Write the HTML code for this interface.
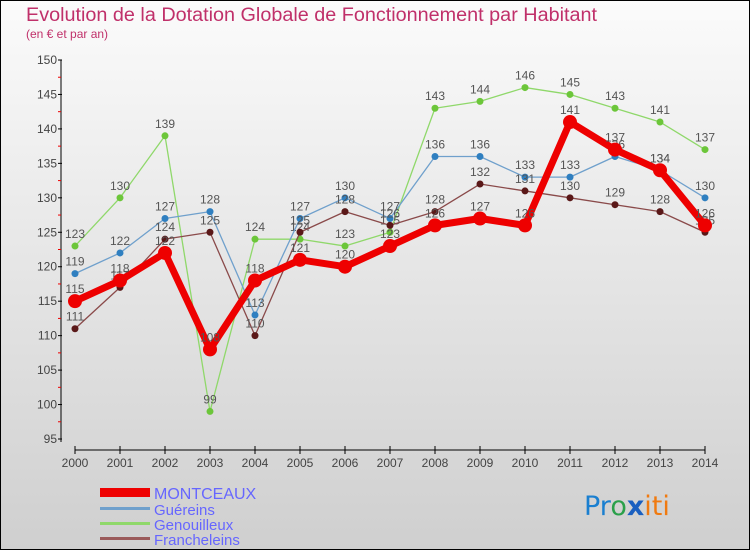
<!DOCTYPE html>
<html><head><meta charset="utf-8"><style>
html,body{margin:0;padding:0;}
body{width:750px;height:550px;overflow:hidden;font-family:"Liberation Sans",sans-serif;}
</style></head><body>
<svg id="chart" width="750" height="550" xmlns="http://www.w3.org/2000/svg" font-family="Liberation Sans, sans-serif">
<defs><linearGradient id="bg" x1="0" y1="0" x2="0" y2="1"><stop offset="0" stop-color="#fbfbfb"/><stop offset="1" stop-color="#cfcfcf"/></linearGradient></defs>
<rect x="0.5" y="0.5" width="749" height="549" fill="url(#bg)" stroke="#000" stroke-width="1"/>
<text x="26" y="21" font-size="19" fill="#c0306a" textLength="571" lengthAdjust="spacingAndGlyphs">Evolution de la Dotation Globale de Fonctionnement par Habitant</text>
<text x="26" y="38" font-size="12" fill="#c0306a">(en € et par an)</text>
<g id="axes"></g>
<g id="series"></g>
<g id="legend">
<rect x="100" y="488" width="50" height="9" fill="#e00"/>
<text x="154" y="499" font-size="16" fill="#6666ff">MONTCEAUX</text>
<rect x="100" y="507" width="50" height="3" fill="#6fa0cc"/>
<text x="154" y="515" font-size="15" fill="#6666ff">Guéreins</text>
<rect x="100" y="522" width="50" height="3" fill="#8fd86a"/>
<text x="154" y="530" font-size="15" fill="#6666ff">Genouilleux</text>
<rect x="100" y="537" width="50" height="3" fill="#9a5a5a"/>
<text x="154" y="545" font-size="15" fill="#6666ff">Francheleins</text>
</g>
<g font-size="27" font-family="DejaVu Sans, sans-serif">
<text x="584" y="515"><tspan fill="#1a7fd0">Pr</tspan><tspan fill="#2aa04a">o</tspan><tspan fill="#1a5fc0" font-weight="bold">x</tspan><tspan fill="#f07a10">iti</tspan></text>
</g>
</svg>
<script>
const years=[2000,2001,2002,2003,2004,2005,2006,2007,2008,2009,2010,2011,2012,2013,2014];
const montceaux=[115,118,122,108,118,121,120,123,126,127,126,141,137,134,126];
const guereins=[119,122,127,128,113,127,130,127,136,136,133,133,136,134,130];
const genouilleux=[123,130,139,99,124,124,123,125,143,144,146,145,143,141,137];
const francheleins=[111,117,124,125,110,125,128,126,128,132,131,130,129,128,125];
const yTicks=[95,100,105,110,115,120,125,130,135,140,145,150];
const NS="http://www.w3.org/2000/svg";
const xs=i=>75+i*45;
const ys=v=>60+(150-v)*(379/55);
function mk(tag,attrs,parent){const e=document.createElementNS(NS,tag);for(const k in attrs)e.setAttribute(k,attrs[k]);parent.appendChild(e);return e;}
const ax=document.getElementById('axes');
let l=mk('line',{x1:61,y1:ys(150),x2:61,y2:ys(95)+3,stroke:'#000'},ax);


l=mk('line',{x1:75,y1:450,x2:705,y2:450,stroke:'#000'},ax);


yTicks.forEach((v,i)=>{
  mk('line',{x1:58,y1:ys(v),x2:62,y2:ys(v),stroke:'#000'},ax);
  if(i<yTicks.length-1) mk('line',{x1:58,y1:ys(v+2.5),x2:61,y2:ys(v+2.5),stroke:'#e00'},ax);
  const t=mk('text',{x:57,y:ys(v)+4,'text-anchor':'end','font-size':12,fill:'#444'},ax);
  t.textContent=v;
  
  
});
years.forEach((y,i)=>{
  mk('line',{x1:xs(i),y1:446,x2:xs(i),y2:454,stroke:'#000'},ax);
  const t=mk('text',{x:xs(i),y:467,'text-anchor':'middle','font-size':12,fill:'#444'},ax);
  t.textContent=y;
  
  
});
const sg=document.getElementById('series');
function draw(data,name,color,lw,r,dot){
  const g=mk('g',{},sg);
  
  
  const p=mk('polyline',{points:data.map((v,i)=>xs(i)+','+ys(v)).join(' '),fill:'none',stroke:color,'stroke-width':lw,'stroke-linejoin':'round'},g);
  
  
  data.forEach((v,i)=>{
    const c=mk('circle',{cx:xs(i),cy:ys(v),r:r,fill:dot},g);
    
    
    const t=mk('text',{x:xs(i),y:ys(v)-8,'text-anchor':'middle','font-size':12,fill:'#555'},g);
    t.textContent=v;
    
    
  });
}
draw(genouilleux,'genouilleux','#8fd86a',1.3,3.5,'#6cc63a');
draw(guereins,'guereins','#6fa0cc',1.3,3.5,'#2f7fc0');
draw(francheleins,'francheleins','#8a4a4a',1.3,3.5,'#5a1818');
draw(montceaux,'montceaux','#ee0000',7,7,'#ee0000');
</script>
</body></html>
